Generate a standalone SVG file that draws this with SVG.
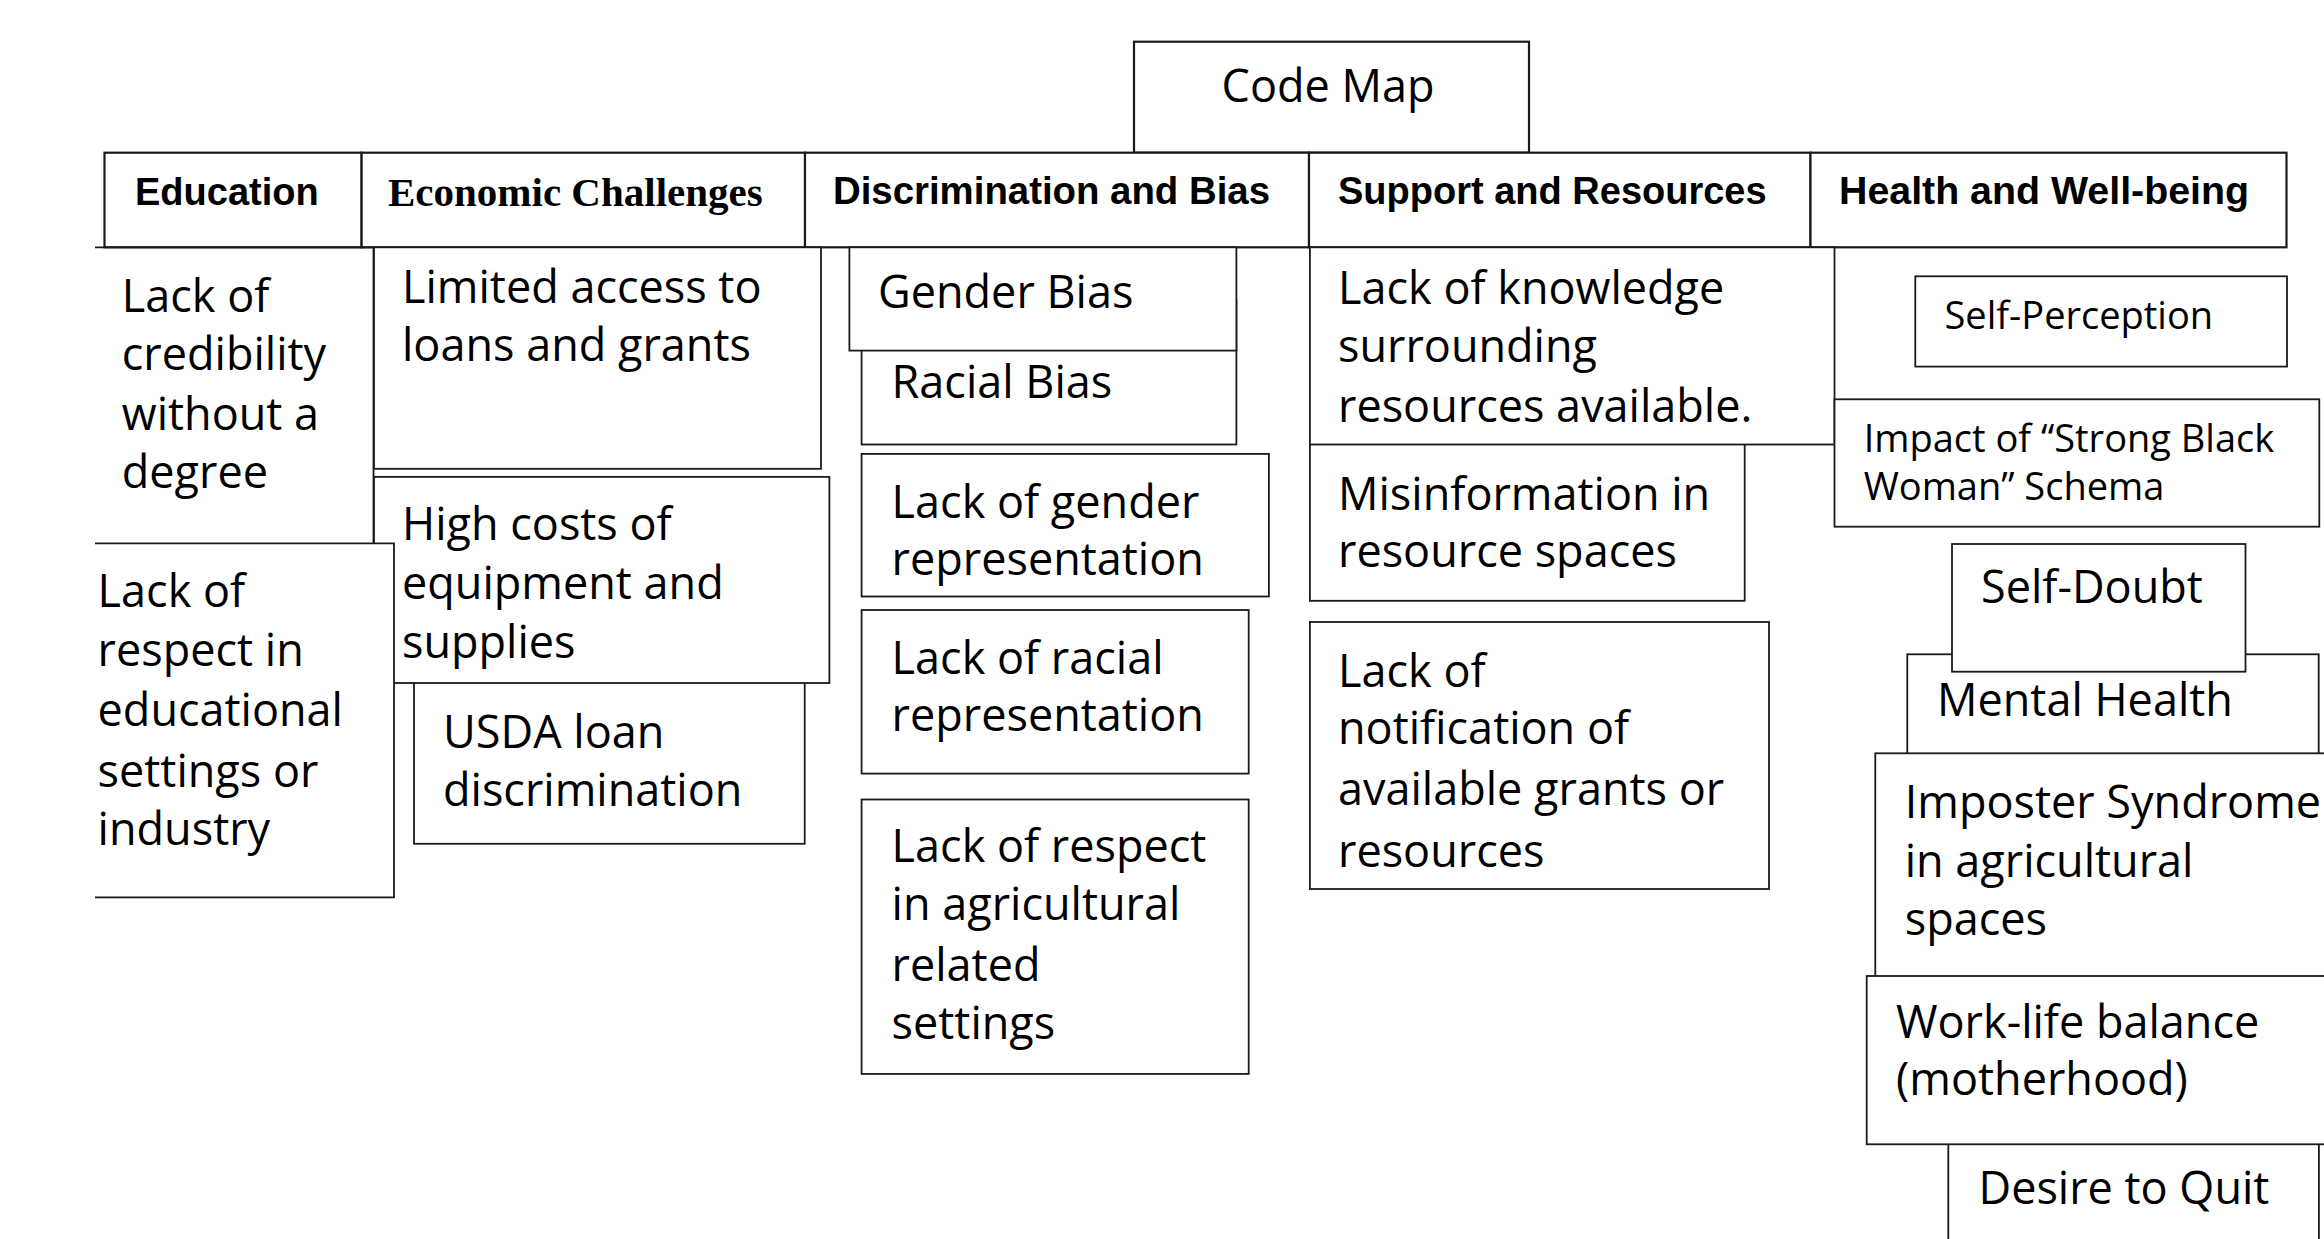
<svg xmlns="http://www.w3.org/2000/svg" width="2324" height="1239" viewBox="0 0 2324 1239">
<style>
.box{fill:#fff;stroke:#1a1a1a;stroke-width:1.8}
.hdr{fill:#fff;stroke:#1a1a1a;stroke-width:2.2}
.t{font-family:"Open Sans","Liberation Sans",sans-serif;font-size:45px;fill:#000}
.ts{font-size:38px}
.h{font-family:"Liberation Sans",Arial,sans-serif;font-weight:bold;font-size:38px;fill:#000}
.hs{font-family:"Liberation Serif","Times New Roman",serif;font-weight:bold;font-size:41px;fill:#000}
</style>
<rect width="2324" height="1239" fill="#fff"/>

<g id="code-map">
<rect class="hdr" x="1134" y="41.7" width="395" height="111"/>
<text class="t" x="1328" y="101.7" font-size="44" text-anchor="middle">Code Map</text>
</g>

<g id="header-education"><rect class="hdr" x="104.5" y="152.7" width="257.1" height="94.6"/><text class="h" x="135" y="205">Education</text></g>
<g id="header-economic"><rect class="hdr" x="361.6" y="152.7" width="443.4" height="94.6"/><text class="hs" x="388" y="206">Economic Challenges</text></g>
<g id="header-discrimination"><rect class="hdr" x="805" y="152.7" width="504" height="94.6"/><text class="h" x="833" y="204" textLength="437" lengthAdjust="spacingAndGlyphs">Discrimination and Bias</text></g>
<g id="header-support"><rect class="hdr" x="1309" y="152.7" width="501.5" height="94.6"/><text class="h" x="1338" y="204">Support and Resources</text></g>
<g id="header-health"><rect class="hdr" x="1810.5" y="152.7" width="476" height="94.6"/><text class="h" x="1839" y="204" textLength="410" lengthAdjust="spacingAndGlyphs">Health and Well-being</text></g>

<g id="connectors"></g>

<g id="edu-credibility">
<path class="box" style="fill:none" d="M95 247.3H373.5V543.4"/>
<text class="t"><tspan x="121.8" y="311.7">Lack of</tspan><tspan x="121.8" y="370">credibility</tspan><tspan x="121.8" y="429.5">without a</tspan><tspan x="121.8" y="488">degree</tspan></text>
</g>

<g id="eco-loans">
<rect class="box" x="374" y="247.3" width="447" height="221.5"/>
<text class="t"><tspan x="402" y="303">Limited access to</tspan><tspan x="402" y="361">loans and grants</tspan></text>
</g>
<g id="eco-usda">
<rect class="box" x="414" y="650" width="390.7" height="193.8"/>
<text class="t"><tspan x="443" y="748">USDA loan</tspan><tspan x="443" y="806">discrimination</tspan></text>
</g>
<g id="eco-costs">
<rect class="box" x="374" y="476.9" width="455.4" height="206.1"/>
<text class="t"><tspan x="402" y="540">High costs of</tspan><tspan x="402" y="599">equipment and</tspan><tspan x="402" y="658">supplies</tspan></text>
</g>

<g id="edu-respect">
<path class="box" d="M95 543.4H394V897.4H95"/>
<text class="t"><tspan x="97.6" y="607">Lack of</tspan><tspan x="97.6" y="666">respect in</tspan><tspan x="97.6" y="726">educational</tspan><tspan x="97.6" y="787">settings or</tspan><tspan x="97.6" y="845">industry</tspan></text>
</g>

<g id="dis-racial">
<rect class="box" x="861.6" y="300" width="374.8" height="144.5"/>
<text class="t" x="891.6" y="398">Racial Bias</text>
</g>
<g id="dis-gender">
<rect class="box" x="849.4" y="247.3" width="387" height="103.3"/>
<text class="t" x="878" y="307.5">Gender Bias</text>
</g>
<g id="dis-gender-rep">
<rect class="box" x="861.6" y="453.9" width="407.3" height="142.6"/>
<text class="t"><tspan x="891.6" y="517.5">Lack of gender</tspan><tspan x="891.6" y="575">representation</tspan></text>
</g>
<g id="dis-racial-rep">
<rect class="box" x="861.6" y="610" width="387.1" height="163.6"/>
<text class="t"><tspan x="891.6" y="674">Lack of racial</tspan><tspan x="891.6" y="731">representation</tspan></text>
</g>
<g id="dis-respect">
<rect class="box" x="861.6" y="799.5" width="387.1" height="274.4"/>
<text class="t"><tspan x="891.6" y="862">Lack of respect</tspan><tspan x="891.6" y="920">in agricultural</tspan><tspan x="891.6" y="981">related</tspan><tspan x="891.6" y="1039">settings</tspan></text>
</g>

<g id="sup-misinfo">
<rect class="box" x="1309.9" y="420" width="434.8" height="180.8"/>
<text class="t"><tspan x="1338" y="509.6">Misinformation in</tspan><tspan x="1338" y="566.5">resource spaces</tspan></text>
</g>
<g id="sup-knowledge">
<rect class="box" x="1309.9" y="247.3" width="524.6" height="197.2"/>
<text class="t"><tspan x="1338" y="303.5">Lack of knowledge</tspan><tspan x="1338" y="362">surrounding</tspan><tspan x="1338" y="422">resources available.</tspan></text>
</g>
<g id="sup-notification">
<rect class="box" x="1309.9" y="622" width="459.1" height="267"/>
<text class="t"><tspan x="1338" y="687">Lack of</tspan><tspan x="1338" y="744">notification of</tspan><tspan x="1338" y="804.5">available grants or</tspan><tspan x="1338" y="866.5">resources</tspan></text>
</g>

<g id="hw-self-perception">
<rect class="box" x="1915.3" y="276.3" width="371.7" height="90.3"/>
<text class="t ts" x="1944.5" y="328.5">Self-Perception</text>
</g>
<g id="hw-strong-black-woman">
<rect class="box" x="1834.5" y="399.3" width="484.8" height="127.4"/>
<text class="t ts"><tspan x="1863.7" y="451.7">Impact of “Strong Black</tspan><tspan x="1863.7" y="500">Woman” Schema</tspan></text>
</g>
<g id="hw-mental-health">
<rect class="box" x="1907.3" y="654.3" width="411.4" height="145.7"/>
<text class="t" x="1937" y="716">Mental Health</text>
</g>
<g id="hw-self-doubt">
<rect class="box" x="1952" y="544" width="293.5" height="127.7"/>
<text class="t" x="1981" y="603.3">Self-Doubt</text>
</g>
<g id="hw-imposter">
<rect class="box" x="1875.3" y="753.3" width="464.7" height="246.7"/>
<text class="t"><tspan x="1904.7" y="818.3">Imposter Syndrome</tspan><tspan x="1904.7" y="876.7">in agricultural</tspan><tspan x="1904.7" y="935">spaces</tspan></text>
</g>
<g id="hw-desire-quit">
<rect class="box" x="1948.3" y="1100" width="370.6" height="160"/>
<text class="t" x="1978.5" y="1204">Desire to Quit</text>
</g>
<g id="hw-work-life">
<rect class="box" x="1866.7" y="976" width="473.3" height="168.3"/>
<text class="t"><tspan x="1896" y="1038.3">Work-life balance</tspan><tspan x="1896" y="1095">(motherhood)</tspan></text>
</g>
</svg>
